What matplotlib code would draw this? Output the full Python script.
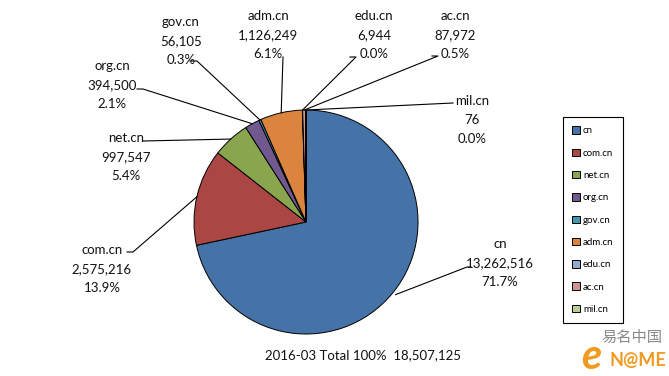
import numpy as np
import matplotlib
matplotlib.use("Agg")
import matplotlib.pyplot as plt

# Data: .cn domain registrations, 2016-03
domains = ["cn", "com.cn", "net.cn", "org.cn", "gov.cn", "adm.cn", "edu.cn", "ac.cn", "mil.cn"]
counts = [13262516, 2575216, 997547, 394500, 56105, 1126249, 6944, 87972, 76]
colors = ["#4572A7", "#AA4643", "#89A54E", "#71588F", "#4198AF",
          "#DB843D", "#93A9CF", "#D19392", "#B9CD96"]
period = "2016-03"

W, H = 669, 376
plt.rcParams['font.family'] = ['Lato', 'DejaVu Sans']

def Y(y):
    # image y (from top) -> axes y
    return H - y

fig = plt.figure(figsize=(W / 100, H / 100), dpi=100)
ax = fig.add_axes([0, 0, 1, 1])

cx, cy, r = 306, 222, 112
explode = [0.03] + [0] * (len(counts) - 1)
wedges, _ = ax.pie(counts, colors=colors, startangle=90, counterclock=False,
                   center=(cx, Y(cy)), radius=r, explode=explode,
                   wedgeprops=dict(edgecolor='black', linewidth=0.7))

# pie() rescales the axes, so fix the pixel frame afterwards
ax.set_xlim(0, W)
ax.set_ylim(0, H)
ax.set_aspect('equal')
ax.axis('off')

total = sum(counts)
fracs = np.array(counts) / total
mids = (np.cumsum(fracs) - fracs / 2) * 2 * np.pi  # clockwise from top

# label block centres and leader points (image coords), layout only
label_pos = [(500, 263), (102, 269), (126, 157), (112, 85), (181, 41),
             (268, 35), (374, 35), (455, 35), (472, 120)]
leader_pts = [[(471, 267), (467, 267)],
              [(127, 252), (133, 252)],
              [(143, 141)],
              [(137, 89), (143, 89)],
              [(190, 61), (197, 61)],
              [(283, 57)],
              [(350, 57), (356, 57)],
              [(432, 56), (438, 56)],
              [(453, 103)]]

for i, name in enumerate(domains):
    off = explode[i] * r
    ex = cx + (r + off) * np.sin(mids[i])
    ey = cy - (r + off) * np.cos(mids[i])
    pts = leader_pts[i] + [(ex, ey)]
    ax.plot([p[0] for p in pts], [Y(p[1]) for p in pts], color='black', lw=0.8)
    tx, ty = label_pos[i]
    txt = f"{name}\n{counts[i]:,}\n{fracs[i] * 100:.1f}%"
    ax.text(tx, Y(ty), txt, ha='center', va='center', fontsize=9.5,
            linespacing=1.7, color='#111111')

leg = ax.legend(wedges, domains, loc='upper left',
                bbox_to_anchor=(563 / W, 1 - 117 / H), bbox_transform=fig.transFigure,
                borderaxespad=0, fancybox=False, edgecolor='black', framealpha=1,
                fontsize=7, handlelength=0.8, handleheight=0.8, handletextpad=0.3,
                labelspacing=1.36, borderpad=0.95)
leg.get_frame().set_linewidth(0.8)

ax.text(363, Y(355), f"{period} Total 100%  {total:,}", ha='center', va='center',
        fontsize=9.5, color='#111111')

# watermark
ax.text(632, Y(337), "易名中国", ha='center', va='center', fontsize=11,
        color='#8a8a8a', family=['Noto Sans CJK SC', 'DejaVu Sans'])
ax.text(591, Y(357), "e", ha='center', va='center', fontsize=30, color='#F29A1F',
        fontweight='bold', style='italic')
ax.text(638, Y(361), "N@ME", ha='center', va='center', fontsize=13, color='#F29A1F',
        fontweight='bold')

fig.savefig("out.png", dpi=100)
